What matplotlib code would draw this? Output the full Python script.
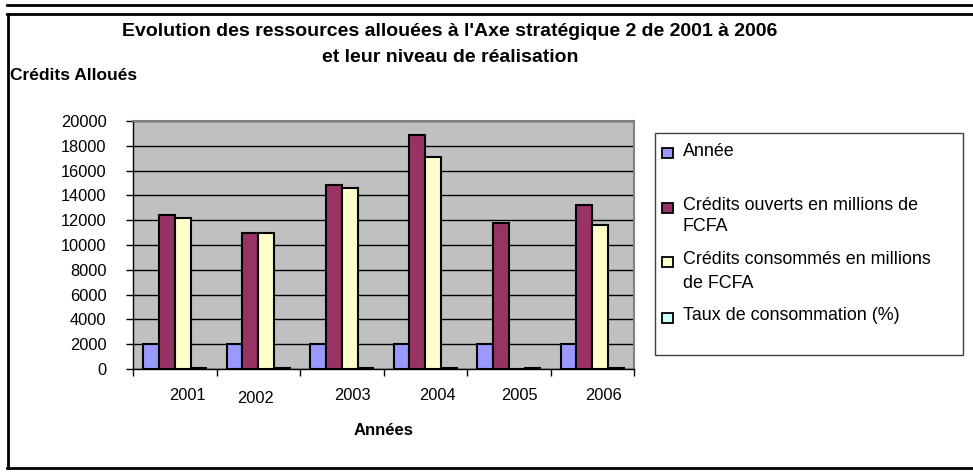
import numpy as np
import matplotlib
matplotlib.use("Agg")
import matplotlib.pyplot as plt
from matplotlib.patches import Rectangle
from matplotlib.lines import Line2D
from matplotlib.transforms import ScaledTranslation

plt.rcParams["font.family"] = ["Liberation Sans", "DejaVu Sans"]

# data
years = ["2001", "2002", "2003", "2004", "2005", "2006"]
annee = [2001, 2002, 2003, 2004, 2005, 2006]
credits_ouverts = [12400, 11000, 14800, 18900, 11800, 13200]
credits_consommes = [12200, 11000, 14600, 17100, 0, 11600]
taux = [98, 100, 99, 91, 100, 88]

series = [annee, credits_ouverts, credits_consommes, taux]
labels = [["Année"], ["Crédits ouverts en millions de", "FCFA"],
          ["Crédits consommés en millions", "de FCFA"], ["Taux de consommation (%)"]]
colors = ["#9999FF", "#993366", "#FFFFCC", "#CCFFFF"]

W, H = 973, 472
fig = plt.figure(figsize=(W / 100, H / 100), dpi=100)


def fx(px):
    return px / W


def fy(py):
    return 1 - py / H


ax = fig.add_axes([fx(133), fy(369), fx(634) - fx(133), fy(121) - fy(369)])
ax.set_facecolor("#C0C0C0")

x = np.arange(len(years))
bw = 0.19
for i, (vals, col) in enumerate(zip(series, colors)):
    ax.bar(x + (i - 1.5) * bw, vals, bw, color=col, edgecolor="black",
           linewidth=1.5, zorder=3)

ax.set_xlim(-0.5, len(years) - 0.5)
ax.set_ylim(0, 20000)
ax.set_yticks(np.arange(0, 20001, 2000))
ax.yaxis.grid(True, color="black", linewidth=1, zorder=1)
ax.tick_params(axis="y", direction="out", length=5, width=1, labelsize=11.8, pad=14)

# category separators on x axis, labels at centres
ax.set_xticks(np.arange(-0.5, len(years)), minor=False)
ax.set_xticklabels([])
ax.tick_params(axis="x", which="major", direction="out", length=5, width=1)
ax.set_xticks(x, minor=True)
ax.set_xticklabels(years, minor=True)
ax.tick_params(axis="x", which="minor", length=0, labelsize=11.8, pad=14)
offs = [13, -3, 11, 12, 11, 11]
offy = [0, -3, 0, 0, 0, 0]
for lab, dx, dy in zip(ax.get_xticklabels(minor=True), offs, offy):
    lab.set_transform(lab.get_transform() + ScaledTranslation(dx / 100, dy / 100, fig.dpi_scale_trans))

for s in ["left", "bottom"]:
    ax.spines[s].set_color("black")
    ax.spines[s].set_linewidth(1)
for s in ["top", "right"]:
    ax.spines[s].set_color("#808080")
    ax.spines[s].set_linewidth(1.5)

ax.set_xlabel("Années", fontsize=12, fontweight="bold", labelpad=12)

# titles
fig.text(fx(450), fy(32), "Evolution des ressources allouées à l'Axe stratégique 2 de 2001 à 2006",
         ha="center", va="center", fontsize=14, fontweight="bold")
fig.text(fx(450), fy(58), "et leur niveau de réalisation",
         ha="center", va="center", fontsize=14, fontweight="bold")
fig.text(fx(10), fy(75), "Crédits Alloués", ha="left", va="center",
         fontsize=12.5, fontweight="bold")

# legend box
fig.patches.append(Rectangle((fx(655), fy(355)), fx(963) - fx(655), fy(133) - fy(355),
                             transform=fig.transFigure, facecolor="white",
                             edgecolor="#404040", linewidth=1))
leg_lines = [[152], [206, 227], [260, 283], [316]]
leg_marks = [153, 208, 262, 318]
for lab, col, ys, ym in zip(labels, colors, leg_lines, leg_marks):
    fig.patches.append(Rectangle((fx(662), fy(ym + 5)), fx(11), 10 / H,
                                 transform=fig.transFigure, facecolor=col,
                                 edgecolor="black", linewidth=1.3))
    for line, yy in zip(lab, ys):
        fig.text(fx(683), fy(yy), line, ha="left", va="center", fontsize=12.9)

# outer frame lines
for yy in [5, 14]:
    fig.add_artist(Line2D([fx(7), 1], [fy(yy), fy(yy)], color="black", linewidth=2,
                          transform=fig.transFigure))
fig.add_artist(Line2D([fx(8), fx(8)], [fy(14), fy(468)], color="black", linewidth=2,
                      transform=fig.transFigure))
fig.add_artist(Line2D([fx(7), 1], [fy(468), fy(468)], color="black", linewidth=2,
                      transform=fig.transFigure))

fig.savefig("out.png", dpi=100)
